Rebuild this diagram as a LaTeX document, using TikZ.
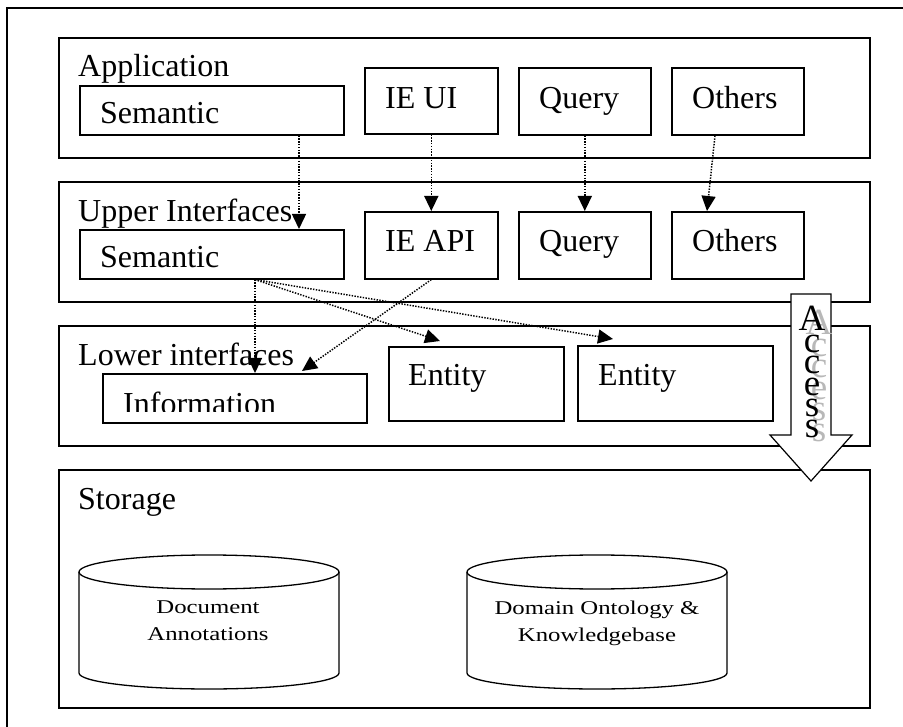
\documentclass[tikz,border=0pt]{standalone}
\usepackage{fontspec}
\setmainfont{Liberation Serif}
\newfontfamily\cylfont[FakeStretch=1.27]{Liberation Serif}
\usetikzlibrary{arrows.meta,calc}
\begin{document}
\begin{tikzpicture}[x=1pt,y=-1pt,
  box/.style={draw,line width=1.6pt,rectangle,inner sep=0pt,anchor=north west},
  lbl/.style={anchor=base west,inner sep=0pt,font=\fontsize{32}{36}\selectfont},
  conn/.style={line width=1.5pt,dash pattern=on 1.4pt off 1.4pt,-{Triangle[length=15pt,width=14pt]}},
  cyl/.style={line width=1.3pt},
  cyltext/.style={anchor=north,inner sep=0pt,align=center,font={\cylfont\fontsize{19.5}{27}\selectfont}},
  accletter/.style={anchor=base,inner sep=0pt,font=\fontsize{37}{40}\selectfont}
]
\useasboundingbox (0,0) rectangle (903,727);
\fill[white] (0,0) rectangle (903,727);
\draw[line width=1.8pt] (7,8) rectangle (920,745);

% layer boxes
\node[box,minimum width=811pt,minimum height=120pt] (app) at (58,37) {};
\node[box,minimum width=264pt,minimum height=49pt] (asem) at (79,85) {};
\node[box,minimum width=133pt,minimum height=66pt] (aie) at (364,67) {};
\node[box,minimum width=132pt,minimum height=67pt] (aq) at (518,67) {};
\node[box,minimum width=132pt,minimum height=67pt] (ao) at (671,67) {};

\node[box,minimum width=811pt,minimum height=120pt] (up) at (58,181) {};
\node[box,minimum width=264pt,minimum height=49pt] (usem) at (79,229) {};
\node[box,minimum width=133pt,minimum height=67pt] (uie) at (364,211) {};
\node[box,minimum width=132pt,minimum height=67pt] (uq) at (518,211) {};
\node[box,minimum width=132pt,minimum height=67pt] (uo) at (671,211) {};

\node[box,minimum width=811pt,minimum height=120pt] (low) at (58,325) {};
\node[box,minimum width=264pt,minimum height=49pt] (info) at (102,373) {};
\node[box,minimum width=175pt,minimum height=74pt] (ent1) at (388,346) {};
\node[box,minimum width=195pt,minimum height=75pt] (ent2) at (577,345) {};

\node[box,minimum width=811pt,minimum height=238pt] (stor) at (58,469) {};

% labels
\node[lbl] (tapp) at (78,77) {Application};
\node[lbl] (tasem) at (100,124) {Semantic};
\node[lbl] (taie) at (385,109) {IE UI};
\node[lbl] (taq) at (539,109) {Query};
\node[lbl] (tao) at (692,109) {Others};
\node[lbl] (tup) at (78,222) {Upper Interfaces};
\node[lbl] (tusem) at (100,268) {Semantic};
\node[lbl] (tuie) at (385,252) {IE API};
\node[lbl] (tuq) at (539,252) {Query};
\node[lbl] (tuo) at (692,252) {Others};
\node[lbl] (tlow) at (78,366) {Lower interfaces};
\begin{scope}
\clip (103,374) rectangle (365,412);
\node[lbl] (tinfo) at (123,415) {Information};
\end{scope}
\node[lbl] (tent1) at (408,386) {Entity};
\node[lbl] (tent2) at (598,386) {Entity};
\node[lbl] (tstor) at (78,509) {Storage};

% connectors
\draw[conn] ($(asem.south west)+(220,0)$) -- ($(usem.north west)+(220,0)$);
\draw[conn] (aie.south) -- (uie.north);
\draw[conn] (aq.south) -- (uq.north);
\draw[conn] ($(ao.south west)+(44,0)$) -- ($(uo.north west)+(36,0)$);
\draw[conn] ($(usem.south west)+(176,0)$) -- ($(info.north west)+(153,0)$);
\draw[conn] ($(usem.south west)+(176,0)$) -- ($(ent1.north west)+(52,-5)$);
\draw[conn] ($(usem.south west)+(176,0)$) -- ($(ent2.north west)+(36,-6)$);
\draw[conn] (uie.south) -- ($(info.north west)+(200,-2)$);

% access arrow
\draw[line width=1.2pt,fill=white] (791,294) -- (831,294) -- (831,435) -- (852,435) -- (811,481) -- (770,435) -- (791,435) -- cycle;
\foreach \ch [count=\i] in {A,c,c,e,s,s}{
  \node[accletter,text=black!28] (accsh\i) at (819,{335+21.4*(\i-1)}) {\ch};
}
\foreach \ch [count=\i] in {A,c,c,e,s,s}{
  \node[accletter] (acc\i) at (812,{331+21.4*(\i-1)}) {\ch};
}

% storage cylinders
\draw[cyl,fill=white] (79,572) -- (79,673) arc[start angle=180,end angle=0,x radius=130,y radius=16] -- (339,572);
\draw[cyl] (209,572) ellipse [x radius=130,y radius=17];
\node[cyltext] (cyl1t) at (208,601) {Document\\Annotations};

\draw[cyl,fill=white] (467,572) -- (467,673) arc[start angle=180,end angle=0,x radius=130,y radius=16] -- (727,572);
\draw[cyl] (597,572) ellipse [x radius=130,y radius=17];
\node[cyltext] (cyl2t) at (597,601) {Domain Ontology \&\\Knowledgebase};
\end{tikzpicture}
\end{document}
